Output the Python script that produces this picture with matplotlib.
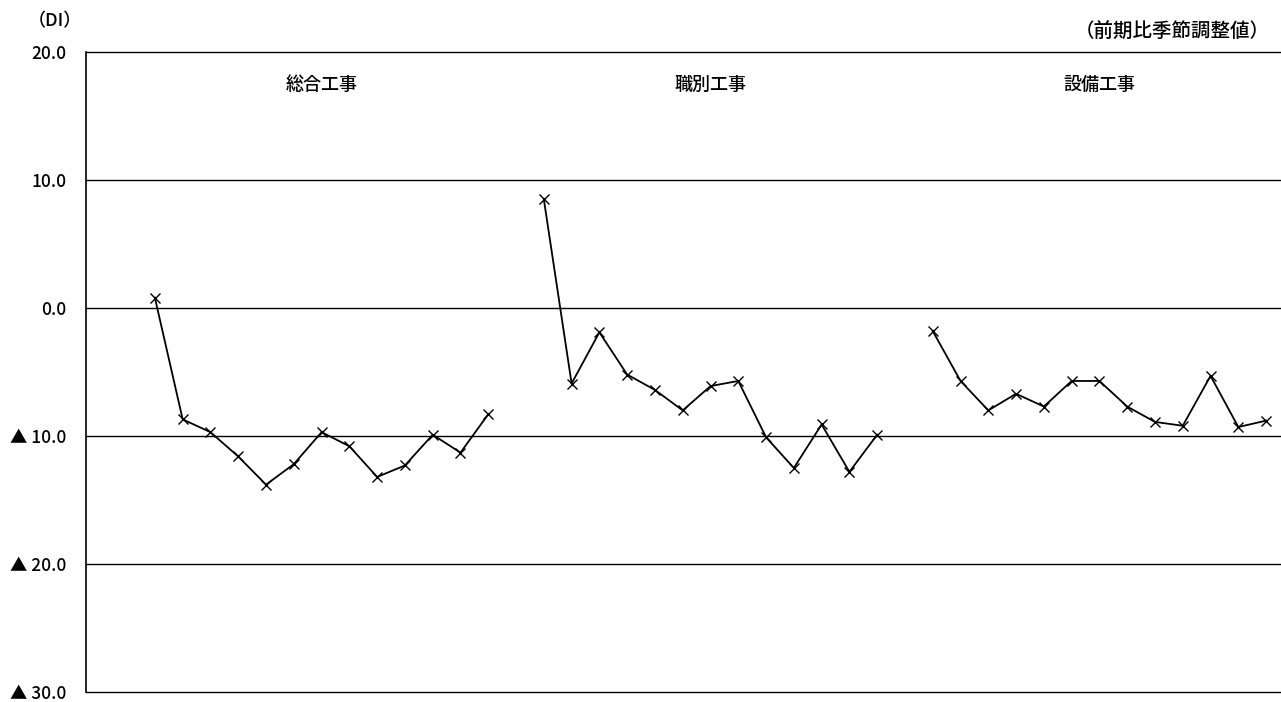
import numpy as np
import matplotlib.pyplot as plt

plt.rcParams['font.family'] = ['Noto Sans CJK JP', 'DejaVu Sans']

# series names and values (DI, seasonally adjusted)
groups = ['総合工事', '職別工事', '設備工事']
sogo = [0.8, -8.7, -9.7, -11.6, -13.8, -12.2, -9.7, -10.8, -13.2, -12.3, -9.9, -11.3, -8.3]
shokubetsu = [8.5, -5.9, -1.9, -5.2, -6.4, -8.0, -6.1, -5.7, -10.1, -12.5, -9.1, -12.8, -9.9]
setsubi = [-1.8, -5.7, -8.0, -6.7, -7.7, -5.7, -5.7, -7.7, -8.9, -9.2, -5.3, -9.3, -8.8]
yticks = [20, 10, 0, -10, -20, -30]
ylabels = ['20.0', '10.0', '0.0', '▲ 10.0', '▲ 20.0', '▲ 30.0']

fig = plt.figure(figsize=(12.81, 7.02), dpi=100)
ax = fig.add_axes([86 / 1281, 10 / 702, 1194 / 1281, 640 / 702])

for i, vals in enumerate([sogo, shokubetsu, setsubi]):
    x = i * 14 + np.arange(len(vals))
    ax.plot(x, vals, color='black', lw=1.3, marker='x', ms=7.5, mew=1.0)
    ax.text(i * 14 + 6, 17.4, groups[i], ha='center', va='center',
            fontsize=13, fontweight='medium')

ax.set_xlim(-2.48, 40.5)
ax.set_ylim(-30, 20)
ax.set_yticks(yticks)
ax.set_yticklabels(ylabels, fontsize=12.5, fontweight='medium')
ax.set_xticks([])
ax.tick_params(axis='y', length=0, pad=14)
for v in yticks:
    ax.axhline(v, color='black', lw=1.0, zorder=0, clip_on=False)
for s in ['top', 'right', 'bottom']:
    ax.spines[s].set_visible(False)
ax.spines['left'].set_linewidth(1.2)

fig.text(55 / 1281, 1 - 21 / 702, '（DI）', ha='center', va='center',
         fontsize=13, fontweight='medium')
fig.text(1270 / 1281, 1 - 32 / 702, '（前期比季節調整値）', ha='right', va='center',
         fontsize=14, fontweight='medium')

fig.savefig('out.png', dpi=100, facecolor='white')
